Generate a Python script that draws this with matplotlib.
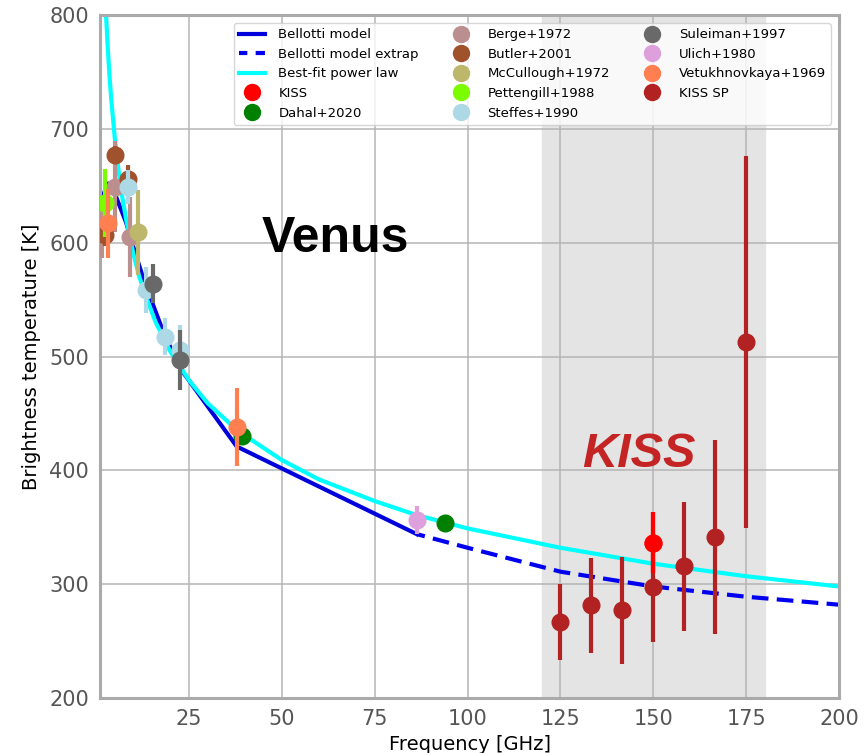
import matplotlib.pyplot as plt
from matplotlib.lines import Line2D

# Bellotti model (solid) and its extrapolation (dashed)
bel_f = [1.3, 3.2, 5, 8, 10, 13, 18, 22.5, 37.8, 86.3]
bel_T = [638, 652, 643, 618, 596, 565, 522, 490, 421, 344]
ext_f = [86.3, 100, 125, 150, 175, 200]
ext_T = [344, 332, 311, 298, 289, 282]

# best-fit power law
fit_f = [2.2, 2.6, 3, 3.5, 4, 5, 6, 7, 8, 10, 11.5, 13, 16, 20, 25, 30, 38, 50, 60, 75, 86, 100, 125, 150, 175, 200]
fit_T = [833, 802, 776, 749, 727, 691, 663, 640, 621, 590, 571, 556, 530, 504, 479, 459, 435, 409, 392, 373, 361, 349, 332, 318, 307, 298]

# literature measurements: (freq GHz, T K, error K)
kiss_f = [150]
kiss_T = [336.5]
kiss_e = [27]

dahal_f = [39.1, 93.9]
dahal_T = [430, 353.5]

berge_f = [1.4, 5.0, 9.1]
berge_T = [612, 649, 605]
berge_e = [25, 40, 35]

butler_f = [2.4, 5.0, 8.6]
butler_T = [607, 677, 656]
butler_e = [10, 8, 12]

mccul_f = [11.3]
mccul_T = [609]
mccul_e = [37]

petten_f = [2.35]
petten_T = [635]
petten_e = [30]

steffes_f = [8.6, 13.4, 18.5, 22.5]
steffes_T = [649, 558.5, 517.5, 506]
steffes_e = [15, 20, 16, 22]

sulei_f = [15.2, 22.5]
sulei_T = [564, 497]
sulei_e = [17, 26]

ulich_f = [86.3]
ulich_T = [356.5]
ulich_e = [12]

vetu_f = [3.25, 37.8]
vetu_T = [617, 438]
vetu_e = [30, 34]

kisssp_f = [125, 133.33, 141.67, 150, 158.33, 166.67, 175]
kisssp_T = [266.8, 281.4, 277.0, 297.8, 315.8, 341.3, 512.8]
kisssp_e = [33.8, 41.9, 47.0, 48.3, 56.7, 85.3, 163.6]

fig = plt.figure(figsize=(8.66, 7.53), dpi=100)
ax = fig.add_axes([0.1155, 0.073, 0.8533, 0.907])

# KISS band
ax.axvspan(120, 180, color='#e4e4e4', zorder=0.2)

ax.plot(bel_f, bel_T, color='#0000dd', lw=3, zorder=2, label='Bellotti model')
ax.plot(ext_f, ext_T, color='#0000ee', lw=3, ls=(2, (4, 2)), zorder=2, label='Bellotti model extrap')
ax.plot(fit_f, fit_T, color='cyan', lw=3, zorder=2, label='Best-fit power law')

ms = 12
series = [
    ('KISS', kiss_f, kiss_T, kiss_e, 'red'),
    ('Dahal+2020', dahal_f, dahal_T, None, 'green'),
    ('Berge+1972', berge_f, berge_T, berge_e, 'rosybrown'),
    ('Butler+2001', butler_f, butler_T, butler_e, 'sienna'),
    ('McCullough+1972', mccul_f, mccul_T, mccul_e, 'darkkhaki'),
    ('Pettengill+1988', petten_f, petten_T, petten_e, 'lawngreen'),
    ('Steffes+1990', steffes_f, steffes_T, steffes_e, 'lightblue'),
    ('Suleiman+1997', sulei_f, sulei_T, sulei_e, 'dimgray'),
    ('Ulich+1980', ulich_f, ulich_T, ulich_e, 'plum'),
    ('Vetukhnovkaya+1969', vetu_f, vetu_T, vetu_e, 'coral'),
    ('KISS SP', kisssp_f, kisssp_T, kisssp_e, 'firebrick'),
]

handles = ax.get_lines()[:3]
for i, (name, f, T, e, c) in enumerate(series):
    z = 3 + i * 0.1
    if e is not None:
        ax.errorbar(f, T, yerr=e, fmt='none', ecolor=c, elinewidth=3, capsize=0, zorder=z)
    ax.plot(f, T, 'o', color=c, ms=ms, zorder=z + 0.05)
    handles.append(Line2D([], [], ls='none', marker='o', color=c, ms=11.5, label=name))

# red KISS point drawn on top of the KISS SP bars
ax.errorbar(kiss_f, kiss_T, yerr=kiss_e, fmt='o', color='red', ms=ms, elinewidth=3, zorder=5)

ax.text(64.5, 592, 'Venus', fontsize=36, fontweight='bold', family='Liberation Sans',
        ha='center', va='baseline', zorder=6)
ax.text(146, 403, 'KISS', fontsize=35, fontweight='bold', style='italic', family='Liberation Sans',
        color='#c42424', ha='center', va='baseline', zorder=6)

ax.set_xlim(1, 200)
ax.set_ylim(200, 800)
ax.set_xticks([25, 50, 75, 100, 125, 150, 175, 200])
ax.set_yticks([200, 300, 400, 500, 600, 700, 800])
ax.tick_params(length=0, pad=8, labelsize=15, labelcolor='#555555')
ax.set_xlabel('Frequency [GHz]', fontsize=14, labelpad=4)
ax.set_ylabel('Brightness temperature [K]', fontsize=14, labelpad=6)
ax.grid(True, color='#b5b5b5', lw=1.1)
ax.set_axisbelow(True)
for s in ax.spines.values():
    s.set_color('#aaaaaa')
    s.set_linewidth(2.2)

ax.legend(handles=handles, loc='upper right', ncol=3, fontsize=9.5, handlelength=2,
          handletextpad=1.0, columnspacing=2.2, borderaxespad=0.6,
          edgecolor='#cccccc', fancybox=True)

plt.savefig('out.png', dpi=100)
